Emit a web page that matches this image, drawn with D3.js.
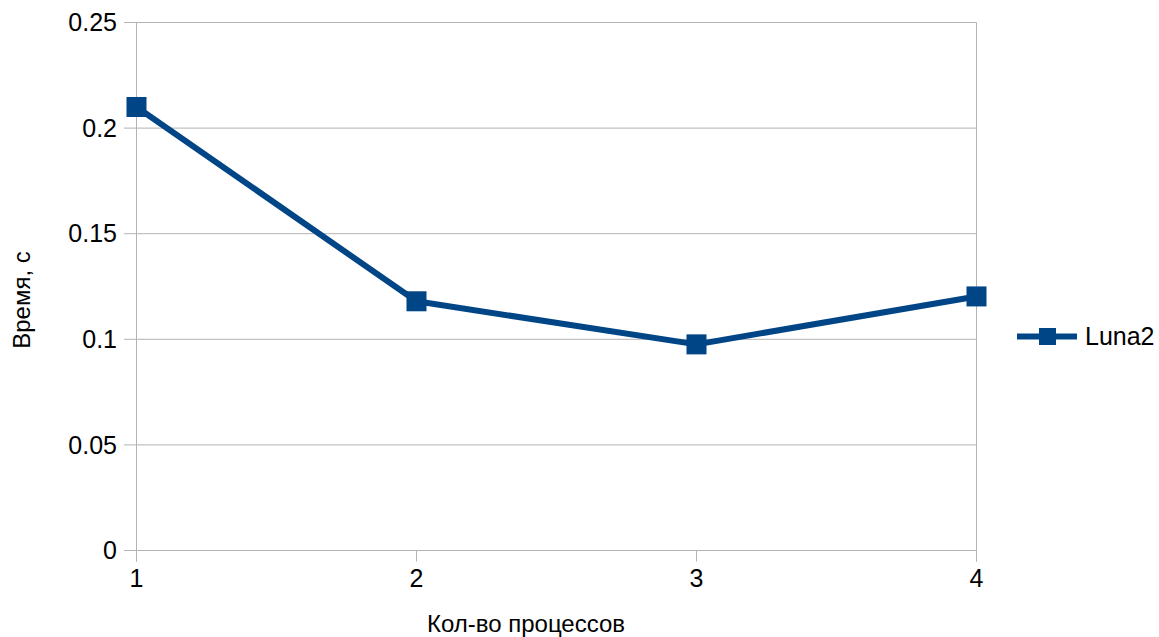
<!DOCTYPE html>
<html><head><meta charset="utf-8">
<script src="https://cdn.jsdelivr.net/npm/d3@7"></script>
<style>body{margin:0;background:#fff}svg{display:block}text{font-family:"Liberation Sans",Arial,sans-serif;fill:#000}</style>
</head><body><svg id="c" width="1159" height="637"></svg>
<script>
const categories = [1, 2, 3, 4];
const luna2 = [0.21, 0.118, 0.0976, 0.1203];
const yTicks = [0, 0.05, 0.1, 0.15, 0.2, 0.25];
const yTickLabels = ["0", "0.05", "0.1", "0.15", "0.2", "0.25"];
const seriesName = "Luna2";
const xTitle = "Кол-во процессов";
const yTitle = "Время, с";

const svg = d3.select("#c");
const color = "#004586", grid = "#b3b3b3";
const x = d3.scaleLinear().domain([1, 4]).range([136.5, 976.5]);
const y = d3.scaleLinear().domain([0, 0.25]).range([550.5, 22.5]);

// horizontal grid
svg.append("g").selectAll("line").data(yTicks).join("line")
  .attr("x1", 124).attr("x2", x(4)).attr("y1", d => y(d)).attr("y2", d => y(d))
  .attr("stroke", grid).attr("stroke-width", 1);
// left axis and right border
svg.append("g").selectAll("line").data([1, 4]).join("line")
  .attr("x1", d => x(d)).attr("x2", d => x(d)).attr("y1", y(0.25)).attr("y2", y(0) + 11)
  .attr("stroke", grid).attr("stroke-width", 1);
// x ticks
svg.append("g").selectAll("line").data(categories).join("line")
  .attr("x1", d => x(d)).attr("x2", d => x(d)).attr("y1", y(0)).attr("y2", y(0) + 11)
  .attr("stroke", grid).attr("stroke-width", 1);

// y labels
svg.append("g").selectAll("text").data(yTicks).join("text")
  .attr("x", 117).attr("y", d => y(d)).attr("dy", "0.35em").attr("text-anchor", "end")
  .attr("font-size", 25).text((d, i) => yTickLabels[i]);
// x labels
svg.append("g").selectAll("text").data(categories).join("text")
  .attr("x", d => x(d)).attr("y", 578).attr("dy", "0.35em").attr("text-anchor", "middle")
  .attr("font-size", 25).text(d => d);

// titles
svg.append("text").attr("x", 526).attr("y", 624).attr("dy", "0.35em").attr("text-anchor", "middle")
  .attr("font-size", 24).text(xTitle);
svg.append("text").attr("transform", "translate(22,300) rotate(-90)").attr("dy", "0.35em")
  .attr("text-anchor", "middle").attr("font-size", 24).text(yTitle);

// line
const line = d3.line().x((d, i) => x(categories[i])).y(d => y(d));
svg.append("path").datum(luna2).attr("d", line).attr("fill", "none")
  .attr("stroke", color).attr("stroke-width", 6).attr("stroke-linejoin", "round");
svg.append("g").selectAll("rect").data(luna2).join("rect")
  .attr("x", (d, i) => x(categories[i]) - 10).attr("y", d => y(d) - 10)
  .attr("width", 20).attr("height", 20).attr("fill", color);

// legend
const lg = svg.append("g");
lg.append("line").attr("x1", 1017).attr("x2", 1077).attr("y1", 336.5).attr("y2", 336.5)
  .attr("stroke", color).attr("stroke-width", 6);
lg.append("rect").attr("x", 1039).attr("y", 328).attr("width", 17).attr("height", 17).attr("fill", color);
lg.append("text").attr("x", 1085).attr("y", 336.5).attr("dy", "0.35em").attr("font-size", 25).text(seriesName);
</script></body></html>
